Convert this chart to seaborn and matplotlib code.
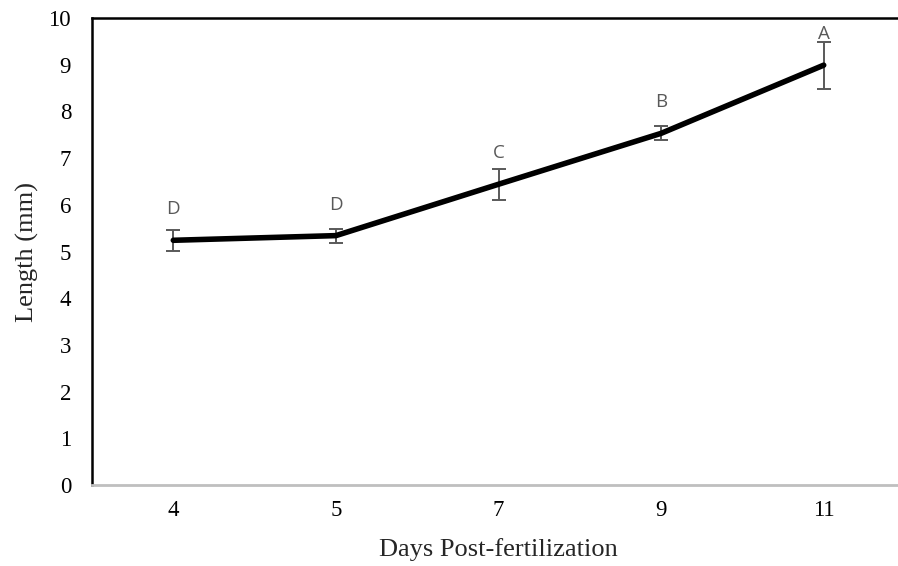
import matplotlib
matplotlib.use("Agg")
import matplotlib.pyplot as plt
import seaborn as sns
import pandas as pd

days = ["4", "5", "7", "9", "11"]
length = [5.24, 5.34, 6.44, 7.53, 8.99]
err = [0.23, 0.15, 0.33, 0.15, 0.50]
letters = ["D", "D", "C", "B", "A"]
yticks = list(range(0, 11))

df = pd.DataFrame({"Days": days, "Length": length})

sns.set_style("white")
fig = plt.figure(figsize=(8.98, 5.66), dpi=100)
ax = fig.add_axes([92 / 898, 1 - 485 / 566, 813 / 898, (485 - 18) / 566])

ax.errorbar(range(len(days)), length, yerr=err, fmt="none", ecolor="#595959",
            elinewidth=1.4, capsize=5, capthick=1.4, zorder=2)
sns.lineplot(data=df, x="Days", y="Length", ax=ax, color="black", linewidth=4,
             sort=False, zorder=3, solid_capstyle="round")

for i, (v, lab) in enumerate(zip(length, letters)):
    ax.annotate(lab, (i, v), xytext=(0, 31), textcoords="offset pixels",
                ha="center", va="center", fontsize=13.5, color="#595959",
                family=["Open Sans", "DejaVu Sans"])

ax.set_xlim(-0.5, len(days) - 0.5)
ax.set_ylim(0, 10)
ax.set_yticks(yticks)
ax.set_xticks(range(len(days)))
ax.set_xticklabels(days)
serif = "Liberation Serif"
for t in ax.get_xticklabels() + ax.get_yticklabels():
    t.set_family(serif)
    t.set_fontsize(16.5)
    t.set_color("black")
ax.tick_params(axis="both", length=0)
ax.tick_params(axis="y", pad=15)
ax.tick_params(axis="x", pad=11)
ax.set_xlabel("Days Post-fertilization", family=serif, fontsize=19, labelpad=12)
ax.set_ylabel("Length (mm)", family=serif, fontsize=19, labelpad=7)

ax.spines["left"].set_color("black")
ax.spines["left"].set_linewidth(1.8)
ax.spines["top"].set_color("black")
ax.spines["top"].set_linewidth(1.8)
ax.spines["bottom"].set_color("#bfbfbf")
ax.spines["bottom"].set_linewidth(2)
ax.spines["right"].set_visible(False)
ax.grid(False)

fig.savefig("out.png", dpi=100)
